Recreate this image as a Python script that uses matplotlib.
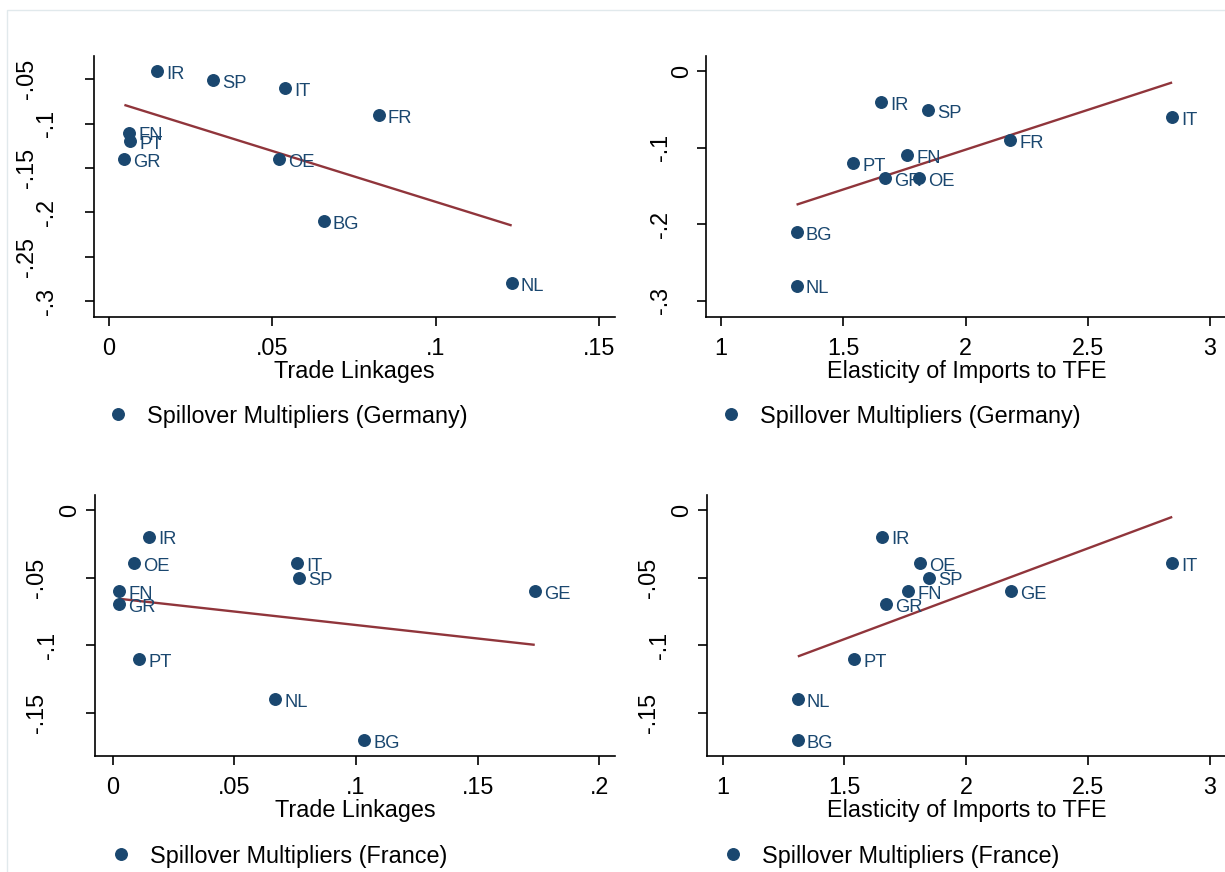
import numpy as np
import matplotlib
matplotlib.use("Agg")
import matplotlib.pyplot as plt
from matplotlib.patches import Rectangle

plt.rcParams['font.family'] = ['Liberation Sans', 'DejaVu Sans']

# ---------------- data ----------------
countries_de = ["IR", "SP", "IT", "FR", "FN", "PT", "GR", "OE", "BG", "NL"]
trade_de = [0.0149, 0.0318, 0.0540, 0.0825, 0.0063, 0.0066, 0.0048, 0.0522, 0.0657, 0.1232]
elast_de = [1.654, 1.846, 2.845, 2.184, 1.761, 1.540, 1.671, 1.810, 1.309, 1.309]
spill_de = [-0.0405, -0.0506, -0.0603, -0.0900, -0.1100, -0.1200, -0.1400, -0.1400, -0.2100, -0.2800]

countries_fr = ["IR", "OE", "IT", "SP", "FN", "GR", "GE", "PT", "NL", "BG"]
trade_fr = [0.0150, 0.0089, 0.0757, 0.0765, 0.0028, 0.0026, 0.1735, 0.0109, 0.0668, 0.1035]
elast_fr = [1.654, 1.810, 2.845, 1.846, 1.761, 1.671, 2.183, 1.540, 1.309, 1.309]
spill_fr = [-0.0195, -0.0392, -0.0392, -0.0498, -0.0596, -0.0695, -0.0596, -0.1100, -0.1400, -0.1700]

xticks_trade_de = [0, 0.05, 0.10, 0.15]
xlabels_trade_de = ["0", ".05", ".1", ".15"]
xticks_trade_fr = [0, 0.05, 0.10, 0.15, 0.20]
xlabels_trade_fr = ["0", ".05", ".1", ".15", ".2"]
xticks_elast = [1, 1.5, 2, 2.5, 3]
xlabels_elast = ["1", "1.5", "2", "2.5", "3"]
yticks_tl = [-0.05, -0.10, -0.15, -0.20, -0.25, -0.30]
ylabels_tl = ["-.05", "-.1", "-.15", "-.2", "-.25", "-.3"]
yticks_tr = [0, -0.1, -0.2, -0.3]
ylabels_tr = ["0", "-.1", "-.2", "-.3"]
yticks_fr = [0, -0.05, -0.10, -0.15]
ylabels_fr = ["0", "-.05", "-.1", "-.15"]

xtitle_trade = "Trade Linkages"
xtitle_elast = "Elasticity of Imports to TFE"
legend_de = "Spillover Multipliers (Germany)"
legend_fr = "Spillover Multipliers (France)"

# ---------------- style ----------------
NAVY = "#1a476f"
MAROON = "#90353b"
FS = 16.8
FS_LAB = 13.2
W, H = 1225, 872

fig = plt.figure(figsize=(W / 100, H / 100), dpi=100)
fig.patch.set_facecolor("white")
fig.patches.append(Rectangle((6.5 / W, -0.1), 2, 1 - 10.5 / H + 0.1, transform=fig.transFigure,
                             fill=False, ec="#e1e9ec", lw=1.0))


def px_axes(left, top, right, bottom):
    return [left / W, 1 - bottom / H, (right - left) / W, (bottom - top) / H]


panels = [
    dict(rect=px_axes(94, 56.5, 615, 316.7), x=trade_de, y=spill_de, names=countries_de,
         xlim=(-0.00449, 0.15479), ylim=(-0.3177, -0.02429),
         xt=xticks_trade_de, xl=xlabels_trade_de, yt=yticks_tl, yl=ylabels_tl,
         ypads=[33.9, 19.9, 33.9, 19.9, 33.9, 19.9],
         xtitle=xtitle_trade, leg=legend_de, leg_xy=(118, 416)),
    dict(rect=px_axes(706, 56.5, 1227, 316.7), x=elast_de, y=spill_de, names=countries_de,
         xlim=(0.93865, 3.0695), ylim=(-0.32048, 0.01891),
         xt=xticks_elast, xl=xlabels_elast, yt=yticks_tr, yl=ylabels_tr,
         ypads=[3.2, 18.5, 18.5, 18.5],
         xtitle=xtitle_elast, leg=legend_de, leg_xy=(731, 416)),
    dict(rect=px_axes(95, 495, 615, 755.7), x=trade_fr, y=spill_fr, names=countries_fr,
         xlim=(-0.00727, 0.20649), ylim=(-0.1816, 0.01132),
         xt=xticks_trade_fr, xl=xlabels_trade_fr, yt=yticks_fr, yl=ylabels_fr,
         ypads=[3.7, 27.4, 19.5, 27.4],
         xtitle=xtitle_trade, leg=legend_fr, leg_xy=(121, 856)),
    dict(rect=px_axes(707, 495, 1227, 755.7), x=elast_fr, y=spill_fr, names=countries_fr,
         xlim=(0.9364, 3.0697), ylim=(-0.1816, 0.01132),
         xt=xticks_elast, xl=xlabels_elast, yt=yticks_fr, yl=ylabels_fr,
         ypads=[3.7, 27.4, 19.5, 27.4],
         xtitle=xtitle_elast, leg=legend_fr, leg_xy=(733, 856)),
]

for p in panels:
    ax = fig.add_axes(p["rect"])
    ax.set_facecolor("white")
    x = np.asarray(p["x"])
    y = np.asarray(p["y"])
    h, = ax.plot(x, y, "o", ms=8.3, color=NAVY, mec=NAVY, zorder=3)
    for name, xi, yi in zip(p["names"], x, y):
        ax.annotate(name, (xi, yi), xytext=(6.5, -5.6), textcoords="offset points",
                    ha="left", va="baseline", fontsize=FS_LAB, color=NAVY, zorder=4)
    # linear fit
    b, a = np.polyfit(x, y, 1)
    xs = np.array([x.min(), x.max()])
    ax.plot(xs, a + b * xs, color=MAROON, lw=1.7, zorder=2, solid_capstyle="butt")

    ax.set_xlim(*p["xlim"])
    ax.set_ylim(*p["ylim"])
    for s in ["top", "right"]:
        ax.spines[s].set_visible(False)
    for s in ["left", "bottom"]:
        ax.spines[s].set_linewidth(1.2)
    ax.set_xticks(p["xt"], p["xl"])
    ax.set_yticks(p["yt"], p["yl"])
    ax.tick_params(axis="both", direction="out", length=6.3, width=1.2, labelsize=FS, colors="black")
    ax.tick_params(axis="x", pad=8)
    ax.tick_params(axis="y", labelrotation=90)
    for lab in ax.get_yticklabels():
        lab.set_va("center")
        lab.set_ha("right")
    for tk, pad in zip(ax.yaxis.get_major_ticks(), p["ypads"]):
        tk.set_pad(pad)
    ax.set_xlabel(p["xtitle"], fontsize=FS, labelpad=0.5)

    lx, ly = p["leg_xy"]
    hl = 1.0
    half = hl * FS * 100 / 72 / 2
    ax.legend([h], [p["leg"]], loc="center left",
              bbox_to_anchor=((lx - half) / W, 1 - ly / H), bbox_transform=fig.transFigure,
              frameon=False, borderpad=0, borderaxespad=0, handlelength=hl,
              handletextpad=0.755, fontsize=FS, numpoints=1)

fig.savefig("out.png", dpi=100, facecolor="white")
